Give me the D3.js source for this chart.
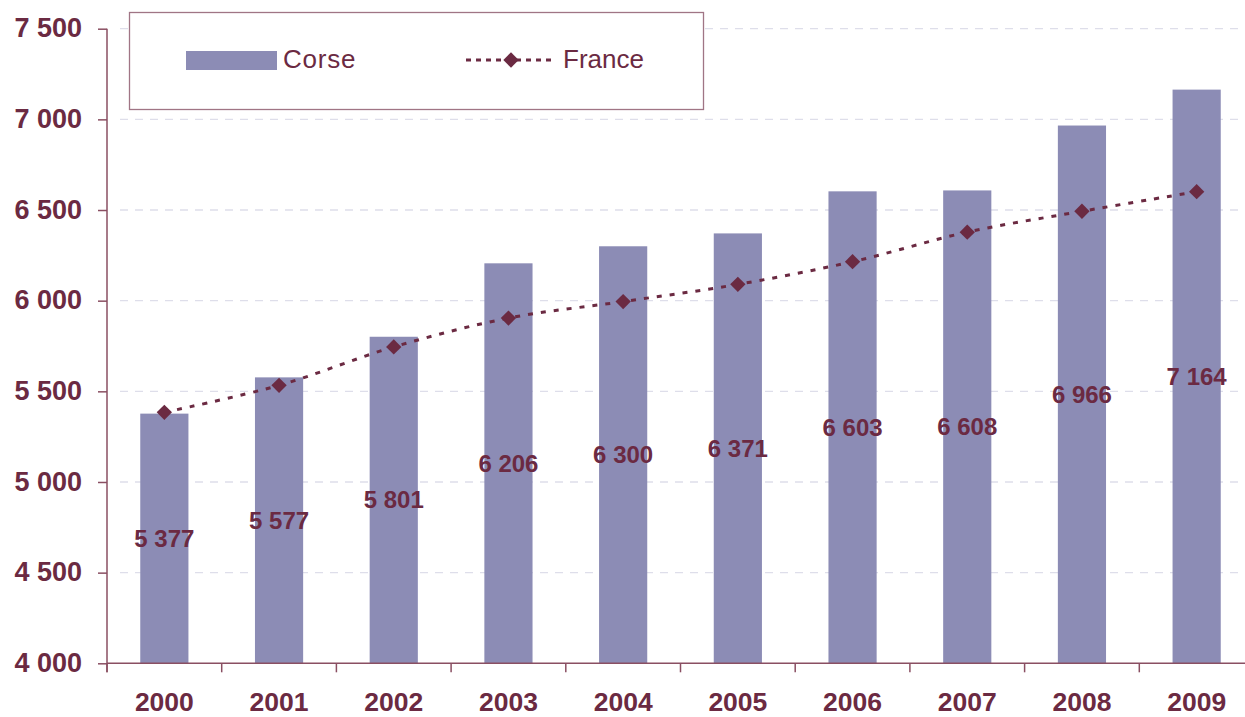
<!DOCTYPE html>
<html>
<head>
<meta charset="utf-8">
<script src="https://cdn.jsdelivr.net/npm/d3@7"></script>
<style>
  body { margin: 0; background: #fff; }
  svg { display: block; font-family: "Liberation Sans", Arial, sans-serif; }
</style>
</head>
<body>
<div id="chart"></div>
<script>
const years = ['2000', '2001', '2002', '2003', '2004', '2005', '2006', '2007', '2008', '2009'];
const corse = [5377, 5577, 5801, 6206, 6300, 6371, 6603, 6608, 6966, 7164];
const france = [5384, 5533, 5745, 5904, 5995, 6090, 6215, 6378, 6493, 6601];
const yTicks = [4000, 4500, 5000, 5500, 6000, 6500, 7000, 7500];
const seriesNames = ['Corse', 'France'];

const W = 1245, H = 717;
const plotLeft = 107, plotRight = 1254, plotTop = 28.7, plotBottom = 663.3;
const barColor = '#8c8cb5';
const ink = '#6b2a42';
const axisColor = '#8a4f62';

const svg = d3.select('#chart').append('svg')
  .attr('width', W)
  .attr('height', H);

const x = d3.scaleBand().domain(years).range([plotLeft, plotRight]).padding(0);
const y = d3.scaleLinear().domain([4000, 7500]).range([plotBottom, plotTop]);
const barW = x.bandwidth() * 0.42;

const fmt = v => d3.format(',')(v).replace(/,/g, ' ');

// grid
svg.append('g')
  .selectAll('line')
  .data(yTicks.filter(d => d > 4000))
  .join('line')
  .attr('x1', 120).attr('x2', W)
  .attr('y1', d => y(d)).attr('y2', d => y(d))
  .attr('stroke', '#dedeea')
  .attr('stroke-width', 1.3)
  .attr('stroke-dasharray', '8,7');

// bars
svg.append('g')
  .selectAll('rect')
  .data(corse)
  .join('rect')
  .attr('x', (d, i) => x(years[i]) + (x.bandwidth() - barW) / 2)
  .attr('y', d => y(d))
  .attr('width', barW)
  .attr('height', d => plotBottom - y(d))
  .attr('fill', barColor);

// y axis
const yAxis = svg.append('g')
  .attr('transform', `translate(${plotLeft},0)`)
  .call(d3.axisLeft(y).tickValues(yTicks).tickFormat(fmt).tickSize(9).tickSizeOuter(0).tickPadding(16));
yAxis.select('.domain').attr('stroke', axisColor).attr('stroke-width', 1.5)
  .attr('d', `M0,${plotTop}V${plotBottom + 9}`);
yAxis.selectAll('.tick line').attr('stroke', axisColor).attr('stroke-width', 1.5);
yAxis.selectAll('.tick text')
  .attr('fill', ink)
  .attr('dy', '0.3em')
  .style('font-size', '27px')
  .style('font-weight', 'bold');

// x axis
const xAxis = svg.append('g')
  .attr('transform', `translate(0,${plotBottom})`)
  .call(d3.axisBottom(x).tickSize(0).tickSizeOuter(0));
xAxis.select('.domain').attr('stroke', axisColor).attr('stroke-width', 1.5)
  .attr('d', `M${plotLeft},0H${W}`);
xAxis.selectAll('.tick text')
  .attr('fill', ink)
  .attr('y', 711 - plotBottom)
  .attr('dy', null)
  .style('font-size', '26.5px')
  .style('font-weight', 'bold');
xAxis.append('g')
  .selectAll('line')
  .data(years)
  .join('line')
  .attr('x1', d => x(d)).attr('x2', d => x(d))
  .attr('y1', 0).attr('y2', 9)
  .attr('stroke', axisColor)
  .attr('stroke-width', 1.5);

// France line
const line = d3.line()
  .x((d, i) => x(years[i]) + x.bandwidth() / 2)
  .y(d => y(d))
  .curve(d3.curveCatmullRom.alpha(0.5));
svg.append('path')
  .datum(france)
  .attr('d', line)
  .attr('fill', 'none')
  .attr('stroke', ink)
  .attr('stroke-width', 3)
  .attr('stroke-dasharray', '5,8');

const diamond = d3.symbol().type(d3.symbolDiamond2).size(150);
svg.append('g')
  .selectAll('path')
  .data(france)
  .join('path')
  .attr('transform', (d, i) => `translate(${x(years[i]) + x.bandwidth() / 2},${y(d)})`)
  .attr('d', diamond)
  .attr('fill', ink);

// value labels
svg.append('g')
  .selectAll('text')
  .data(corse)
  .join('text')
  .attr('x', (d, i) => x(years[i]) + x.bandwidth() / 2)
  .attr('y', d => (y(d) + plotBottom) / 2)
  .attr('dy', '0.35em')
  .attr('text-anchor', 'middle')
  .attr('fill', ink)
  .style('font-size', '24px')
  .style('font-weight', 'bold')
  .text(fmt);

// legend
const lg = svg.append('g');
lg.append('rect')
  .attr('x', 129.5).attr('y', 12.5)
  .attr('width', 574).attr('height', 97)
  .attr('fill', '#fff')
  .attr('stroke', '#a07585')
  .attr('stroke-width', 1.3);
lg.append('rect')
  .attr('x', 186).attr('y', 51)
  .attr('width', 91).attr('height', 19)
  .attr('fill', barColor);
lg.append('text')
  .attr('x', 283).attr('y', 68)
  .attr('fill', ink)
  .style('font-size', '26px')
  .style('letter-spacing', '0.8px')
  .text(seriesNames[0]);
lg.append('line')
  .attr('x1', 466).attr('x2', 553)
  .attr('y1', 60).attr('y2', 60)
  .attr('stroke', ink)
  .attr('stroke-width', 3)
  .attr('stroke-dasharray', '5,5');
lg.append('path')
  .attr('transform', 'translate(511,60)')
  .attr('d', diamond)
  .attr('fill', ink);
lg.append('text')
  .attr('x', 563).attr('y', 68)
  .attr('fill', ink)
  .style('font-size', '26px')
  .text(seriesNames[1]);
</script>
</body>
</html>
